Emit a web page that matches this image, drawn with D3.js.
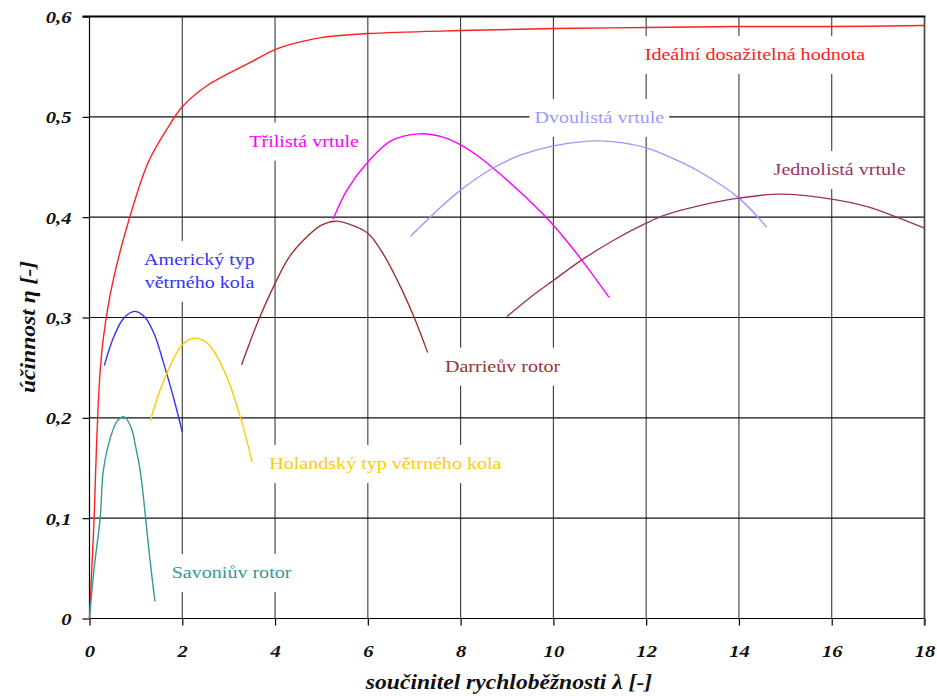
<!DOCTYPE html>
<html>
<head>
<meta charset="utf-8">
<script src="https://cdn.jsdelivr.net/npm/d3@7"></script>
<style>
html,body{margin:0;padding:0;background:#fff;}
svg{display:block;}
svg text{font-family:"Liberation Serif","Tinos","Times New Roman","DejaVu Serif",serif;}
</style>
</head>
<body>
<svg id="chart" width="937" height="696"></svg>
<script>
// ---- data (λ, η) ----
const idealni = [[0,0],[0.05,0.05],[0.1,0.1],[0.15,0.17],[0.22,0.24],[0.3,0.28],[0.5,0.335],[0.9,0.405],[1.27,0.455],[1.7,0.49],[2,0.51],[2.5,0.53],[3.5,0.555],[4,0.567],[4.4,0.573],[5,0.579],[6,0.583],[8,0.586],[10,0.588],[12,0.589],[14,0.59],[16,0.59],[18,0.591]];
const savonius = [[0,0],[0.1,0.05],[0.23,0.1],[0.3,0.148],[0.45,0.18],[0.6,0.197],[0.75,0.201],[0.9,0.19],[1.0,0.17],[1.1,0.145],[1.21,0.1],[1.3,0.06],[1.41,0.017]];
const americky = [[0.32,0.252],[0.5,0.278],[0.7,0.297],[0.85,0.304],[1.0,0.306],[1.2,0.300],[1.4,0.283],[1.6,0.254],[1.8,0.222],[2.0,0.186]];
const holandsky = [[1.31,0.197],[1.5,0.225],[1.7,0.248],[1.95,0.27],[2.15,0.278],[2.35,0.279],[2.55,0.274],[2.75,0.261],[3.0,0.236],[3.25,0.201],[3.51,0.156]];
const darrieus = [[3.28,0.253],[3.64,0.297],[4.0,0.334],[4.3,0.36],[4.61,0.377],[5.0,0.392],[5.3,0.396],[5.6,0.393],[6.0,0.384],[6.35,0.362],[6.7,0.331],[7.0,0.3],[7.29,0.265]];
const trilista = [[5.25,0.398],[5.55,0.427],[6.0,0.455],[6.5,0.476],[7.1,0.483],[7.6,0.48],[8.0,0.472],[8.4,0.46],[8.8,0.445],[9.4,0.42],[10.0,0.392],[10.6,0.358],[11.2,0.32]];
const dvoulista = [[6.92,0.381],[7.5,0.407],[8.0,0.427],[8.7,0.449],[9.3,0.462],[10.0,0.471],[10.9,0.476],[11.5,0.474],[12.0,0.469],[12.6,0.458],[13.2,0.444],[14.0,0.419],[14.6,0.39]];
const jednolista = [[9.0,0.301],[9.5,0.32],[10.0,0.337],[10.6,0.357],[11.3,0.377],[12.0,0.394],[12.4,0.402],[13.2,0.412],[14.0,0.419],[14.9,0.423],[16.0,0.418],[16.8,0.41],[17.4,0.4],[18.0,0.389]];

const xTicks = [0,2,4,6,8,10,12,14,16,18];
const yTicks = [0,0.1,0.2,0.3,0.4,0.5,0.6];
const xTitle = "součinitel rychloběžnosti λ [-]";
const yTitle = "účinnost η [-]";

const seriesNames = ["idealni","savonius","americky","holandsky","darrieus","trilista","dvoulista","jednolista"];
const seriesData = [idealni,savonius,americky,holandsky,darrieus,trilista,dvoulista,jednolista];
const seriesColors = ["#ff2020","#339999","#3333ff","#ffcc00","#993333","#ff00ff","#9999ff","#993366"];

// annotation labels: text lines, anchor position in data units
const labelTexts = [["Ideální dosažitelná hodnota"],["Třilistá vrtule"],["Dvoulistá vrtule"],["Jednolistá vrtule"],["Americký typ","větrného kola"],["Darrieův rotor"],["Holandský typ větrného kola"],["Savoniův rotor"]];
const labelX = [11.97, 3.445, 9.593, 14.747, 2.371, 7.663, 3.876, 1.772];
const labelY = [0.5567, 0.4703, 0.4939, 0.442, 0.3523, 0.246, 0.149, 0.0404];
const labelAnchor = ["start","start","start","start","middle","start","start","start"];
const labelColors = ["#ff2020","#ff00ff","#9999ff","#993366","#3333ff","#993333","#ffcc00","#339999"];

// ---- drawing ----
const svg = d3.select("#chart");
const L = 89.5, R = 924.5, T = 16.5, B = 618.5;
const x = d3.scaleLinear().domain([0,18]).range([L,R]);
const y = d3.scaleLinear().domain([0,0.6]).range([B,T]);
const SX = 1.18;

// grid
const grid = svg.append("g");
grid.selectAll("line.v").data(xTicks.filter(d=>d>0)).join("line")
  .attr("x1",d=>x(d)).attr("x2",d=>x(d)).attr("y1",T).attr("y2",B)
  .attr("stroke","#3a3a3a").attr("stroke-width",1.1);
grid.selectAll("line.h").data(yTicks.filter(d=>d>0 && d<0.6)).join("line")
  .attr("x1",L).attr("x2",R).attr("y1",d=>y(d)).attr("y2",d=>y(d))
  .attr("stroke","#111").attr("stroke-width",1.1);

// axes
const xAxis = d3.axisBottom(x).tickValues(xTicks).tickSize(7).tickFormat(d=>d);
const yAxis = d3.axisLeft(y).tickValues(yTicks).tickSize(7).tickFormat(d=>d===0?"0":d3.format(".1f")(d).replace(".",","));
const gx = svg.append("g").attr("transform",`translate(0,${B})`).call(xAxis);
const gy = svg.append("g").attr("transform",`translate(${L},0)`).call(yAxis);
[gx,gy].forEach(g=>{
  g.attr("font-family",null);
  g.select(".domain").attr("stroke","#000").attr("stroke-width",1.2);
  g.selectAll(".tick line").attr("stroke","#000").attr("stroke-width",1.2);
  g.selectAll(".tick text").attr("fill","#111")
    .attr("font-weight","bold").attr("font-style","italic").attr("font-size","17.5px");
});
gx.selectAll(".tick text").attr("y",0).attr("dy",0)
  .attr("transform",`translate(0,38) scale(${SX},1)`);
gy.selectAll(".tick text").attr("x",0).attr("dy","0.34em")
  .attr("transform",`translate(-18,0) scale(${SX},1)`);
gx.select(".domain").attr("d",`M${L},0H${R}`);
gy.select(".domain").attr("d",`M0,${B}V${T}`);

// top and right border
svg.append("line").attr("x1",L-7).attr("x2",R+1).attr("y1",T).attr("y2",T).attr("stroke","#000").attr("stroke-width",2.2);
svg.append("line").attr("x1",R).attr("x2",R).attr("y1",T).attr("y2",B+7).attr("stroke","#444").attr("stroke-width",1.6);

// labels: white boxes
const labG = svg.append("g");
const boxG = labG.append("g");
const txtG = labG.append("g");
labelTexts.forEach((lines,i)=>{
  const rect = boxG.append("rect").attr("fill","#fff");
  const t = txtG.append("text")
    .attr("transform",`translate(${x(labelX[i])},${y(labelY[i])}) scale(${SX},1)`)
    .attr("text-anchor",labelAnchor[i])
    .attr("fill",labelColors[i])
    .attr("font-size","17px");
  lines.forEach((s,j)=>t.append("tspan").attr("x",0).attr("dy",j===0?0:"1.35em").text(s));
  const bb = t.node().getBBox();
  const x0 = x(labelX[i]) + bb.x*SX - 5, x1 = x(labelX[i]) + (bb.x+bb.width)*SX + 5;
  const yb = y(labelY[i]);
  const lastBase = yb + (lines.length-1)*17*1.35;
  rect.attr("x",x0).attr("width",x1-x0).attr("y",yb-24).attr("height",lastBase+14-(yb-24));
});

// curves
const line = d3.line().x(d=>x(d[0])).y(d=>y(d[1])).curve(d3.curveCatmullRom.alpha(0.5));
labG.lower(); grid.lower();
svg.append("g").selectAll("path").data(seriesData).join("path")
  .attr("d",line).attr("fill","none")
  .attr("stroke",(d,i)=>seriesColors[i]).attr("stroke-width",1.4)
  .attr("class",(d,i)=>seriesNames[i]);
txtG.raise();

// axis titles
svg.append("text")
  .attr("transform",`translate(509,689) scale(${SX},1)`)
  .attr("text-anchor","middle").attr("fill","#111")
  .attr("font-weight","bold").attr("font-style","italic").attr("font-size","20px")
  .text(xTitle);
svg.append("text")
  .attr("transform",`translate(35,327) rotate(-90) scale(${SX},1)`)
  .attr("text-anchor","middle").attr("fill","#111")
  .attr("font-weight","bold").attr("font-style","italic").attr("font-size","20px")
  .text(yTitle);
</script>
</body>
</html>
